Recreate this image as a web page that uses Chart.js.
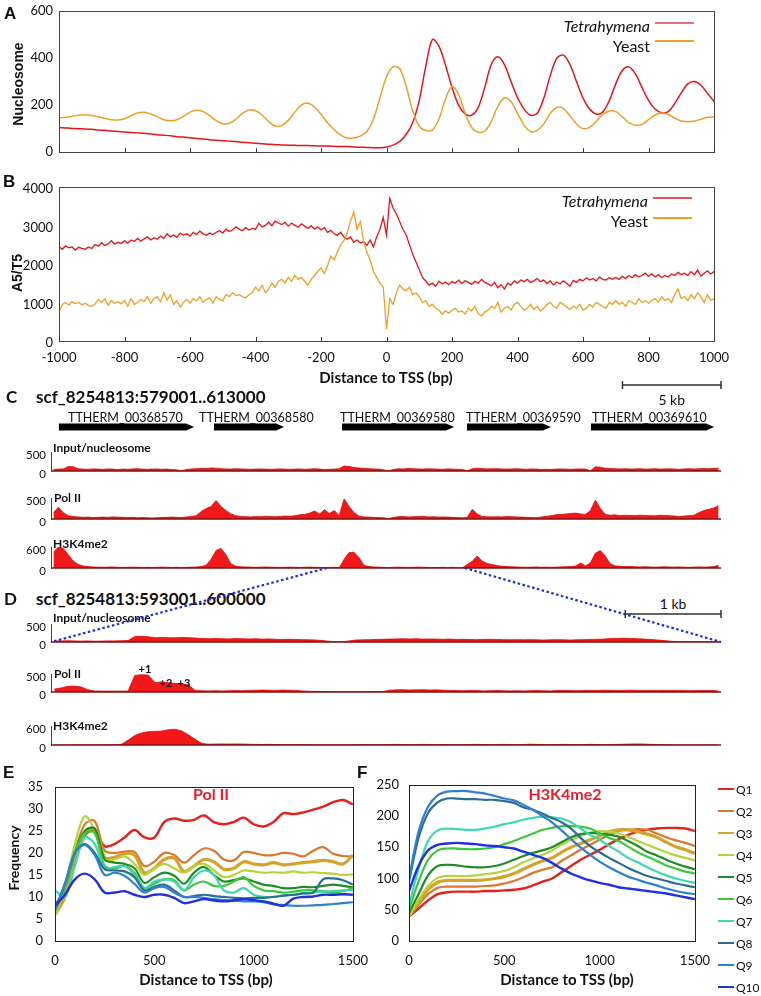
<!DOCTYPE html>
<html><head><meta charset="utf-8">
<script src="https://cdn.jsdelivr.net/npm/chart.js@4.4.1/dist/chart.umd.min.js"></script>
<style>
html,body{margin:0;padding:0;background:#fff;}
body{width:761px;height:996px;position:relative;overflow:hidden;font-family:Lato,"Liberation Sans",sans-serif;color:#111;}
canvas{position:absolute;}
</style></head><body>
<script>
// ================= DATA =================
const seriesNames = ['Tetrahymena', 'Yeast'];
// Panel A: nucleosome occupancy, x from -1000 step 20
const aX0 = -1000, aStep = 20;
const aTetrahymena = [105,103,101,100,98,97,94,93,90,88, 86,84,82,80,77,74,72,70,66,64,
 61,58,56,53,51,49,47,45,42,40, 38,36,34,32,31,30,29,28,28,27, 26,26,25,24,24,22,21,20,19,19,
 22,
 30,45,75,125,220,365,478,450,370,275, 200,163,157,190,275,372,405,372,300,232,
 183,157,165,228,325,398,412,372,300,230, 183,162,170,218,290,347,362,332,275,220,
 183,167,172,206,252,290,300,284,250,215];
const aYeast = [146,148,152,157,159,156,150,143,138,137, 142,155,166,169,162,150,138,133,138,152,
 170,178,172,155,134,121,123,140,165,179, 176,158,130,111,113,135,170,200,208,192,
 160,125,95,72,60,60,68,88,140,230,
 320,
 362,355,280,175,110,92,95,140,225,278, 245,165,105,85,90,130,195,230,215,165,
 115,88,92,120,165,190,185,155,120,100, 105,130,160,175,172,150,125,114,118,138,
 158,166,160,145,132,129,132,140,148,150];
// Panel B: A5/T5, x from -1000 step 10
const bX0 = -1000, bStep = 10;
const bTetrahymena = [2450,2380,2470,2420,2440,2360,2430,2400,2380,2440,
 2400,2500,2460,2550,2480,2520,2600,2510,2560,2530,
 2600,2540,2620,2580,2660,2590,2650,2700,2620,2680,
 2640,2720,2660,2780,2700,2750,2690,2800,2740,2780,
 2720,2820,2760,2850,2780,2740,2800,2760,2820,2860,
 2800,2900,2840,2880,2960,2900,2860,2940,2880,2920,
 2900,3050,2960,3000,3080,2990,3110,3060,3020,3080,
 2980,3060,3000,2950,3040,2980,2920,2990,2900,2960,
 2880,2940,2820,2870,2780,2740,2820,2700,2640,2700,
 2560,2620,2540,2580,2480,2620,2440,2700,2900,3200,
 2750,
 3700,3450,3300,3100,2900,2750,2500,2250,2050,1850,
 1650,1550,1450,1500,1420,1550,1480,1530,1460,1540,
 1500,1580,1490,1560,1520,1470,1550,1500,1600,1520,
 1480,1430,1520,1380,1460,1350,1500,1450,1560,1500,
 1580,1540,1600,1520,1560,1620,1540,1580,1490,1560,
 1450,1530,1480,1560,1500,1420,1570,1520,1600,1560,
 1640,1580,1620,1560,1660,1600,1580,1640,1600,1650,
 1600,1680,1620,1700,1640,1720,1660,1700,1760,1680,
 1740,1660,1720,1640,1700,1660,1740,1700,1780,1720,
 1760,1700,1800,1720,1840,1680,1760,1820,1740,1800];
const bYeast = [750,950,1000,930,1020,970,1000,940,980,920,
 900,960,1080,1000,1100,930,1050,980,1020,960,
 1050,900,1100,950,1000,1080,1020,1150,980,1100,
 1150,1020,1250,1060,1200,950,1050,880,1000,1080,
 980,1100,1040,1150,1000,1080,1120,980,1150,1080,
 1040,1200,1150,1250,1180,1200,1150,1120,1200,1250,
 1400,1300,1450,1250,1350,1500,1400,1550,1600,1500,
 1650,1550,1700,1600,1650,1550,1450,1600,1700,1800,
 1900,1750,1950,2200,2100,2300,2500,2600,2800,3100,
 3350,2900,3100,2600,2300,2100,1800,1650,1500,1400,
 300,
 1100,950,1250,1450,1350,1300,1400,1200,1250,1150,
 1000,1050,900,950,850,800,700,780,720,800,
 850,750,780,700,850,780,900,700,650,750,
 800,900,850,1000,750,850,900,800,950,1000,
 900,800,850,950,820,900,780,850,950,1000,
 900,850,1000,950,880,820,900,850,950,800,
 850,950,880,1000,950,900,850,1000,950,1050,
 950,1000,900,1050,1000,950,1100,1000,1050,980,
 1050,1100,1000,1150,1050,1100,1000,1200,1350,1100,
 1150,1050,1200,1100,1250,1150,1000,1200,1050,1100];
const bTickStep = 200;

// Panel C: genome region
const cRegionName = 'scf_8254813:579001..613000';
const cStart = 579001, cEnd = 613000;
const geneNames = ['TTHERM_00368570','TTHERM_00368580','TTHERM_00369580','TTHERM_00369590','TTHERM_00369610'];
const geneStarts = [579400, 587270, 593770, 600110, 606400];
const geneEnds   = [586260, 590830, 599450, 604370, 612650];
const trackNames = ['Input/nucleosome', 'Pol II', 'H3K4me2'];
const trackMax = [500, 500, 600];
const cInput = [40,50,55,120,110,60,50,45,55,50, 45,55,50,40,50,45,55,60,50,45,
 50,55,45,50,40,30,5,40,55,60, 70,65,80,75,60,55,50,60,55,50,
 45,50,55,50,45,50,55,50,45,50, 55,45,50,60,50,40,45,50,60,130,
 120,90,80,70,60,55,50,30,5,40, 60,55,65,60,55,50,60,55,50,45,
 55,50,45,40,5,60,70,65,55,60, 60,55,50,55,60,50,45,55,50,40,
 45,40,50,55,50,45,50,55,50,5, 110,100,70,65,60,55,60,50,55,60,
 50,55,60,50,55,60,50,45,55,60, 55,60,65,60,70,75];
const cPol2 = [150,280,150,80,60,50,40,45,35,40, 45,40,50,45,40,35,40,30,35,30,
 25,30,35,40,45,40,35,50,60,80, 180,250,300,440,300,200,120,80,60,55,
 50,60,55,65,60,55,60,70,65,80, 100,110,140,190,120,220,130,200,80,480,
 300,150,70,50,45,40,35,30,5,40, 55,60,50,55,60,65,50,55,45,50,
 45,40,35,30,40,230,120,60,55,50, 55,50,60,55,50,45,40,35,30,50,
 60,80,100,110,120,130,140,120,110,200, 450,250,110,90,100,80,90,85,80,90,
 85,80,75,90,85,80,70,60,70,80, 90,150,200,230,260,320];
const cH3K4me2 = [450,600,560,380,200,100,60,40,30,25, 20,25,30,20,15,20,25,20,15,20,
 15,20,25,20,15,20,10,20,25,30, 40,80,250,500,560,380,120,50,35,30,
 25,20,25,30,25,20,15,20,25,20, 15,20,25,20,15,10,15,20,10,250,
 440,450,300,80,40,30,25,20,10,20, 25,20,15,20,25,20,15,10,15,20,
 15,20,10,5,100,190,340,200,130,100, 70,50,40,35,30,25,20,25,30,20,
 25,20,25,30,35,40,60,140,60,150, 420,500,340,120,60,50,40,45,35,30,
 35,30,25,30,35,30,25,30,25,20, 25,30,25,30,40,80];
// Panel D: zoomed region
const dRegionName = 'scf_8254813:593001..600000';
const dStart = 593001, dEnd = 600000;
const dInput = [25,30,35,30,25,30,20,25,30,30, 35,40,150,155,145,120,125,120,115,125,
 120,110,95,90,95,90,85,95,90,85, 90,80,85,75,70,75,70,65,60,55,
 40,20,5,5,30,55,60,65,70,75, 80,85,90,85,90,80,85,80,75,80,
 70,75,70,65,70,75,70,65,60,65, 60,65,60,55,60,65,60,55,60,65,
 70,75,80,95,100,105,100,90,80,70, 55,40,20,10,10,10,10,10,10,10];
const dPol2 = [80,110,160,165,140,60,30,25,25,25, 25,25,460,480,470,260,280,260,240,230,
 200,40,35,30,35,30,35,40,35,45, 50,55,50,45,55,50,45,30,20,15,
 15,10,5,5,5,5,5,5,10,10, 50,60,65,55,60,65,55,60,50,45,
 40,35,40,45,30,35,40,35,30,35, 30,35,40,35,30,40,45,40,35,40,
 45,40,50,45,40,45,50,45,40,45, 40,45,40,45,40,35,40,45,40,35];
const dH3K4me2 = [0,0,0,5,5,5,5,5,5,5, 20,150,300,380,420,430,440,480,500,440,
 320,180,50,25,30,35,30,35,30,25, 20,15,20,15,10,15,10,15,10,5,
 5,5,5,5,5,10,15,10,15,10, 15,20,15,10,15,20,15,10,15,10,
 15,10,15,20,15,10,15,20,15,10, 15,25,20,15,10,15,20,15,10,15,
 20,15,10,15,20,25,30,35,30,20, 15,10,5,0,0,0,0,0,0,0];
const dPeakLabels = ['+1', '+2', '+3'];

// Panels E/F: quantile profiles, x 0..1500 step 50
const qX0 = 0, qStep = 50;
const qNames = ['Q1','Q2','Q3','Q4','Q5','Q6','Q7','Q8','Q9','Q10'];
const ePol2 = [
 [8,12,18,24,25,21.5,22,23.5,25.2,23.5,23.5,27,27.8,27.3,27.5,28.5,27,26.5,27,28,26.5,26,27,29,28.8,29.2,29.8,30.5,31.5,32,31],
 [6.5,11,20,26.5,27.2,20.5,20,20.3,20.2,17,18,20,19.5,17.8,19.5,21,20.5,18.5,18.3,20.2,20,19.5,19.5,20,19.8,19.2,20.5,21.3,19.8,19.3,19.2],
 [6,10,19,24.5,25.5,19,19,19.8,19.5,15.5,16.5,18.5,18.8,15.8,17,18.5,18,16.3,16.5,18,17.5,17.3,17.8,17.3,17.5,17.8,18,18.3,18,17.5,19.5],
 [6,12,22,28.3,25,18.5,18.5,19.2,17.5,15,16.5,17.5,16.5,15.5,17,17.5,16,14.5,15,16,15.8,15.5,15.6,15.5,15.8,15.5,15.6,15.4,15.3,15,15.1],
 [7,12,20,25,25.5,18.5,17.8,17.5,16.5,13.2,14.5,15.5,14.8,13,15.5,16.8,15,13.5,13.8,14.2,13.5,12.8,12.5,12,12,12.3,12.2,12.5,12.8,12.5,12.2],
 [7,12,20,24.5,24.5,17,16.5,17,15.5,12,13,14,13.8,11.5,12.8,13.5,12.5,12.5,13.5,14.5,12.5,11.5,11.3,11,11.2,11.5,11.5,11.3,11,11.3,12],
 [11.5,10,17,23.5,22,16.5,16.8,17,15,12,13.5,14,13.5,11.5,14.5,16,15,11.5,11,12,10.5,10,10,10.3,10.5,10.8,11,11.2,11.3,11.5,11.5],
 [7,13,20,22,20,16.3,16,15.8,14.5,11.5,12.3,12.8,11.5,10,10.2,10.5,10.2,10,9.8,9.7,9.8,9.8,10,10.3,10.5,10.8,11,14,14.2,13.8,12.8],
 [7,13,20,21.8,19.5,15,15.5,14.8,13,11,12,12.3,11,10,10,9.8,9.5,9.3,9.2,9,9,8.8,8.3,8.2,8,8,8.1,8.2,8.4,8.6,8.8],
 [8,10.5,14,15.3,14,11,11,11.3,10.5,10,10.5,10.5,9.8,8.6,9,9.5,9.2,9,9.2,9.5,9.3,9,8.5,8,9.6,10,10.1,10.5,10.5,10.6,10.5]];
const fH3K4me2 = [
 [39,52,65,75,78,79,79,79,80,80,81,82,84,89,95,100,110,120,130,138,146,155,163,170,175,178,180,181,181,180,176],
 [40,58,75,85,87,87,87,87,88,89,92,96,102,109,114,118,128,137,146,154,162,170,176,178,179,178,172,166,161,157,152],
 [40,62,82,94,97,97,97,97,98,100,103,108,115,122,128,133,142,150,156,162,168,175,178,178,175,171,166,158,151,146,140],
 [40,66,88,101,104,104,104,105,107,109,112,118,126,132,138,145,154,162,168,173,176,175,172,167,160,154,148,142,137,133,129],
 [45,75,105,120,122,121,119,118,118,120,124,130,136,141,145,150,158,166,171,173,172,170,167,160,152,143,137,130,124,119,115],
 [50,95,130,145,148,148,147,147,148,150,155,160,166,172,178,181,184,184,183,180,172,165,160,151,142,135,128,121,116,111,108],
 [57,115,160,177,180,179,178,178,180,183,187,190,194,197,199,198,196,190,180,170,162,152,143,133,126,118,111,105,100,96,93],
 [95,165,205,222,228,228,227,227,226,226,224,221,214,210,204,197,190,180,165,152,142,133,125,117,110,104,100,96,92,89,86],
 [100,175,215,233,239,240,240,238,236,232,228,225,218,210,200,190,177,163,150,138,127,118,110,103,98,93,89,84,80,77,75],
 [80,120,145,154,156,157,156,155,153,152,150,148,143,138,133,125,116,108,102,97,93,90,86,84,82,80,78,76,73,70,67]];

// ================= STYLES =================
const tetraColor = '#e8141c', yeastColor = '#efa02a';
const qColors = ['#e8201c','#d9782e','#d4a32a','#b5d33d','#1e8c28','#3cc83c','#3fd6b0','#2a6f92','#2f80d0','#1f30e0'];
const qWidths = [2.4,2.2,3.2,2.2,2.2,2.2,2.2,2.2,2.2,2.4];
const titleRed = '#e8202a';
Chart.defaults.font.family = 'Lato, "Liberation Sans", sans-serif';
Chart.defaults.color = '#111';

// ================= HELPERS =================
function txt(s, x, y, css, align, rot) {
  const d = document.createElement('div');
  d.textContent = s;
  const tx = align === 'c' ? '-50%' : align === 'r' ? '-100%' : '0';
  d.style.cssText = 'position:absolute;left:' + x + 'px;top:' + y + 'px;white-space:nowrap;line-height:1;transform:translate(' + tx + ',-50%)' + (rot ? ' rotate(' + rot + 'deg)' : '') + ';' + (css || '');
  document.body.appendChild(d);
  return d;
}
function hline(x0, x1, y, color, w) {
  const d = document.createElement('div');
  d.style.cssText = 'position:absolute;left:' + x0 + 'px;top:' + (y - w / 2) + 'px;width:' + (x1 - x0) + 'px;height:' + w + 'px;background:' + color;
  document.body.appendChild(d);
}
function canvasAt(l, t, w, h) {
  const c = document.createElement('canvas');
  c.width = w; c.height = h;
  c.style.left = l + 'px'; c.style.top = t + 'px';
  c.style.width = w + 'px'; c.style.height = h + 'px';
  document.body.appendChild(c);
  return c;
}
function chartAt(area, m, cfg) {
  const ml = m[0], mt = m[1], mr = m[2], mb = m[3];
  const L = area.l - ml, T = area.t - mt;
  const c = canvasAt(L, T, area.r - area.l + ml + mr, area.b - area.t + mt + mb);
  const o = cfg.options;
  o.responsive = false; o.animation = false; o.devicePixelRatio = 1;
  o.events = [];
  const xs = o.scales.x, ys = o.scales.y;
  o.layout = {padding: {left: ys.display === false ? ml : 0, top: mt, right: mr, bottom: xs.display === false ? mb : 0}};
  xs.afterFit = s => { s.height = mb; };
  ys.afterFit = s => { s.width = ml; };
  const ch = new Chart(c, cfg);
  ch.off = {x: L, y: T};
  return ch;
}
const framePlugin = {
  id: 'frame',
  afterDatasetsDraw(chart, a, opts) {
    const {ctx, chartArea: ca} = chart;
    ctx.save();
    ctx.strokeStyle = opts.color || '#333'; ctx.lineWidth = opts.width || 1;
    ctx.strokeRect(Math.round(ca.left) + 0.5, Math.round(ca.top) + 0.5, Math.round(ca.right - ca.left), Math.round(ca.bottom - ca.top));
    ctx.restore();
  }
};
const inTicksPlugin = {
  id: 'inTicks',
  afterDatasetsDraw(chart, a, opts) {
    const {ctx, chartArea: ca} = chart, x = chart.scales.x;
    ctx.save(); ctx.strokeStyle = opts.color || '#333'; ctx.lineWidth = 1;
    x.ticks.forEach(t => {
      const px = Math.round(x.getPixelForValue(t.value)) + 0.5;
      ctx.beginPath(); ctx.moveTo(px, ca.bottom); ctx.lineTo(px, ca.bottom - (opts.len || 4)); ctx.stroke();
    });
    ctx.restore();
  }
};
const baseLinePlugin = {
  id: 'baseLine',
  afterDatasetsDraw(chart, a, opts) {
    const {ctx, chartArea: ca} = chart, y = chart.scales.y.getPixelForValue(0);
    ctx.save(); ctx.strokeStyle = opts.color || '#7a1010'; ctx.lineWidth = opts.width || 1.5;
    ctx.beginPath(); ctx.moveTo(ca.left, y); ctx.lineTo(ca.right, y); ctx.stroke();
    ctx.restore();
  }
};
// gene arrows: each dataset = [start point, end point]; drawn as a pentagon arrow
const arrowPlugin = {
  id: 'geneArrows',
  afterDatasetsDraw(chart, a, opts) {
    const ctx = chart.ctx, h = (opts.thickness || 7) / 2;
    ctx.save(); ctx.fillStyle = '#000';
    chart.data.datasets.forEach((ds, i) => {
      const els = chart.getDatasetMeta(i).data;
      const b = els[0].x, x = els[1].x, y = els[0].y, tip = Math.min(8, (x - b) / 2);
      ctx.beginPath();
      ctx.moveTo(b, y - h); ctx.lineTo(x - tip, y - h); ctx.lineTo(x, y);
      ctx.lineTo(x - tip, y + h); ctx.lineTo(b, y + h); ctx.closePath(); ctx.fill();
    });
    ctx.restore();
  }
};
const pts = (arr, x0, step) => arr.map((v, i) => ({x: x0 + i * step, y: v}));
const noAnim = {legend: {display: false}, tooltip: {enabled: false}};
const fmt = v => String(v);
const hiddenY = (min, max) => ({min: min, max: max, ticks: {display: false}, grid: {display: false, drawTicks: false}, border: {display: false}});

// ================= PANEL A =================
chartAt({l: 59, t: 7, r: 714, b: 160}, [59, 10, 47, 6], {
  type: 'line',
  data: {datasets: [
    {label: seriesNames[1], data: pts(aYeast, aX0, aStep), borderColor: yeastColor, borderWidth: 1.5, pointRadius: 0, tension: 0.35},
    {label: seriesNames[0], data: pts(aTetrahymena, aX0, aStep), borderColor: tetraColor, borderWidth: 1.5, pointRadius: 0, tension: 0.35}]},
  options: {plugins: Object.assign({frame: {color: '#444'}, inTicks: {len: 4}}, noAnim),
    scales: {
      x: {type: 'linear', min: -1000, max: 1000, ticks: {stepSize: bTickStep, display: false}, grid: {display: false, drawTicks: false}, border: {display: false}},
      y: {min: 0, max: 600, ticks: {stepSize: 200, padding: 6, callback: fmt, font: {size: 13}}, grid: {display: false, drawTicks: false}, border: {display: false}}}},
  plugins: [framePlugin, inTicksPlugin]
});
txt('A', 4, 14, 'font:bold 17px "Liberation Sans";');
txt('Nucleosome', 18, 84, 'font:bold 14px "Liberation Sans";', 'c', -90);
txt(seriesNames[0], 650, 25, 'font:italic 16px Lato;', 'r');
txt(seriesNames[1], 650, 45, 'font:16px Lato;', 'r');
hline(655, 694, 23, '#e9707a', 2);
hline(655, 694, 41, yeastColor, 2);

// ================= PANEL B =================
chartAt({l: 59, t: 183, r: 714, b: 341}, [59, 10, 47, 30], {
  type: 'line',
  data: {datasets: [
    {label: seriesNames[1], data: pts(bYeast, bX0, bStep), borderColor: yeastColor, borderWidth: 1.3, pointRadius: 0, tension: 0},
    {label: seriesNames[0], data: pts(bTetrahymena, bX0, bStep), borderColor: tetraColor, borderWidth: 1.3, pointRadius: 0, tension: 0}]},
  options: {plugins: Object.assign({frame: {color: '#444'}, inTicks: {len: 4}}, noAnim),
    scales: {
      x: {type: 'linear', min: -1000, max: 1000, ticks: {stepSize: bTickStep, padding: 9, callback: fmt, font: {size: 13}, maxRotation: 0, autoSkip: false}, grid: {display: false, drawTicks: false}, border: {display: false}},
      y: {min: 0, max: 4000, ticks: {stepSize: 1000, padding: 6, labelOffset: 2, callback: fmt, font: {size: 13}}, grid: {display: false, drawTicks: false}, border: {display: false}}}},
  plugins: [framePlugin, inTicksPlugin]
});
txt('B', 3, 182, 'font:bold 17px "Liberation Sans";');
txt('A5/T5', 17, 273, 'font:bold 14px "Liberation Sans";', 'c', -90);
txt(seriesNames[0], 648, 200, 'font:italic 16px Lato;', 'r');
txt(seriesNames[1], 648, 220, 'font:16px Lato;', 'r');
hline(653, 692, 198, '#e9505a', 2);
hline(653, 692, 218, yeastColor, 2);
txt('Distance to TSS (bp)', 386, 377, 'font:bold 15px Lato;', 'c');

// ================= PANEL C =================
txt('C', 6, 396, 'font:bold 17px Lato;');
txt(cRegionName, 36, 396, 'font:bold 17px Lato;');
const geneLabelX = [68, 199, 340, 466, 592];
geneNames.forEach((g, i) => txt(g, geneLabelX[i], 417, 'font:12.5px Lato;'));
chartAt({l: 51, t: 420, r: 721, b: 434}, [51, 0, 10, 0], {
  type: 'line',
  data: {datasets: geneNames.map((g, i) => ({label: g, data: [{x: geneStarts[i], y: 0}, {x: geneEnds[i], y: 0}], showLine: false, pointRadius: 0}))},
  options: {plugins: Object.assign({geneArrows: {thickness: 7}}, noAnim),
    scales: {x: {type: 'linear', display: false, min: cStart, max: cEnd}, y: hiddenY(-1, 1)}},
  plugins: [arrowPlugin]
});
function track(area, start, end, vals, ymax) {
  const step = (end - start + 1) / vals.length;
  return chartAt(area, [area.l, 12, 10, 6], {
    type: 'line',
    data: {datasets: [{data: vals.map((v, i) => ({x: start + (i + 0.5) * step, y: v})), fill: 'origin', backgroundColor: '#f01818', borderColor: '#e00808', borderWidth: 0.8, pointRadius: 0, tension: 0}]},
    options: {plugins: Object.assign({baseLine: {color: '#7a1414', width: 1.6}}, noAnim),
      scales: {
        x: {type: 'linear', display: false, min: start, max: end},
        y: {min: 0, max: ymax, afterBuildTicks: s => { s.ticks = [{value: 0}, {value: ymax}]; },
            ticks: {padding: 5, labelOffset: 3, font: {size: 11.5}, callback: fmt},
            grid: {display: false, drawTicks: false}, border: {display: true, color: '#444', width: 1}}}},
    plugins: [baseLinePlugin]
  });
}
const c1 = track({l: 51, t: 452, r: 721, b: 477}, cStart, cEnd, cInput, trackMax[0]);
const c2 = track({l: 51, t: 498, r: 721, b: 525}, cStart, cEnd, cPol2, trackMax[1]);
const c3 = track({l: 51, t: 547, r: 721, b: 574}, cStart, cEnd, cH3K4me2, trackMax[2]);
txt(trackNames[0], 53, 447, 'font:bold 12px Lato;');
txt(trackNames[1], 54, 497, 'font:bold 12px Lato;');
txt(trackNames[2], 53, 543, 'font:bold 12px Lato;');

// ================= PANEL D =================
txt('D', 4, 598, 'font:bold 17px Lato;');
txt(dRegionName, 36, 598, 'font:bold 17px Lato;');
const d1 = track({l: 51, t: 624, r: 721, b: 648}, dStart, dEnd, dInput, trackMax[0]);
const d2 = track({l: 51, t: 674, r: 721, b: 698}, dStart, dEnd, dPol2, trackMax[1]);
const d3 = track({l: 51, t: 726, r: 721, b: 751}, dStart, dEnd, dH3K4me2, trackMax[2]);
txt(trackNames[0], 53, 617, 'font:bold 12px Lato;');
txt(trackNames[1], 54, 673, 'font:bold 12px Lato;');
txt(trackNames[2], 53, 725, 'font:bold 12px Lato;');
const peakLabelPos = [[145, 668], [166, 682], [184, 682]];
dPeakLabels.forEach((s, i) => txt(s, peakLabelPos[i][0], peakLabelPos[i][1], 'font:bold 11px Lato;', 'c'));

// ================= PANEL E =================
const qDatasets = series => series.map((s, i) => ({label: qNames[i], data: pts(s, qX0, qStep), borderColor: qColors[i], borderWidth: qWidths[i], pointRadius: 0, tension: 0.35}));
chartAt({l: 55, t: 777, r: 355, b: 941}, [55, 10, 25, 30], {
  type: 'line',
  data: {datasets: qDatasets(ePol2).reverse()},
  options: {plugins: Object.assign({frame: {color: '#222'}}, noAnim),
    scales: {
      x: {type: 'linear', min: 0, max: 1500, ticks: {stepSize: 500, padding: 12, callback: fmt, font: {size: 13}, maxRotation: 0}, grid: {display: false, drawTicks: false}, border: {display: false}},
      y: {min: 0, max: 35, ticks: {stepSize: 5, padding: 12, callback: fmt, font: {size: 13}}, grid: {display: false, drawTicks: false}, border: {display: false}}}},
  plugins: [framePlugin]
});
txt('E', 3, 773, 'font:bold 17px "Liberation Sans";');
txt('Frequency', 13, 858, 'font:bold 14px Lato;', 'c', -90);
txt('Pol II', 211, 793, 'font:bold 16px Lato;color:' + titleRed + ';', 'c');
txt('Distance to TSS (bp)', 206, 979, 'font:bold 15px Lato;', 'c');

// ================= PANEL F =================
chartAt({l: 409, t: 777, r: 702, b: 941}, [35, 10, 20, 30], {
  type: 'line',
  data: {datasets: qDatasets(fH3K4me2).reverse()},
  options: {plugins: Object.assign({frame: {color: '#222'}}, noAnim),
    scales: {
      x: {type: 'linear', min: 0, max: 1500, ticks: {stepSize: 500, padding: 12, callback: fmt, font: {size: 13}, maxRotation: 0}, grid: {display: false, drawTicks: false}, border: {display: false}},
      y: {min: 0, max: 250, ticks: {stepSize: 50, padding: 10, callback: fmt, font: {size: 13}}, grid: {display: false, drawTicks: false}, border: {display: false}}}},
  plugins: [framePlugin]
});
txt('F', 357, 773, 'font:bold 17px "Liberation Sans";');
txt('H3K4me2', 565, 793, 'font:bold 16px Lato;color:' + titleRed + ';', 'c');
txt('Distance to TSS (bp)', 567, 979, 'font:bold 15px Lato;', 'c');
qNames.forEach((q, i) => {
  hline(718, 734, 789 + 22 * i, qColors[i], 2.5);
  txt(q, 736, 789 + 22 * i, 'font:12px Lato;');
});

// ================= OVERLAY: zoom connectors and scale bars =================
const ov = canvasAt(0, 0, 761, 996);
ov.style.zIndex = 5; ov.style.pointerEvents = 'none';
const g = ov.getContext('2d');
const px = (ch, v) => ch.off.x + ch.scales.x.getPixelForValue(v);
const py = (ch, v) => ch.off.y + ch.scales.y.getPixelForValue(v);
g.strokeStyle = '#1f2fd0'; g.lineWidth = 2.2; g.setLineDash([2.5, 2.5]);
[[dStart, d1.scales.x.min], [dEnd, d1.scales.x.max]].forEach(p => {
  g.beginPath(); g.moveTo(px(c3, p[0]), py(c3, 0)); g.lineTo(px(d1, p[1]), py(d1, 0)); g.stroke();
});
g.setLineDash([]);
function scaleBar(ch, len, y, label, ty) {
  const x1 = px(ch, ch.scales.x.max), x0 = px(ch, ch.scales.x.max - len);
  g.strokeStyle = '#333'; g.lineWidth = 1.5;
  g.beginPath(); g.moveTo(x0, y); g.lineTo(x1, y);
  g.moveTo(x0, y - 4); g.lineTo(x0, y + 4); g.moveTo(x1, y - 4); g.lineTo(x1, y + 4); g.stroke();
  txt(label, (x0 + x1) / 2, ty, 'font:14px Lato;', 'c');
}
scaleBar(c3, 5000, 385, '5 kb', 399);
scaleBar(d3, 1000, 614, '1 kb', 603);
</script>
</body></html>
